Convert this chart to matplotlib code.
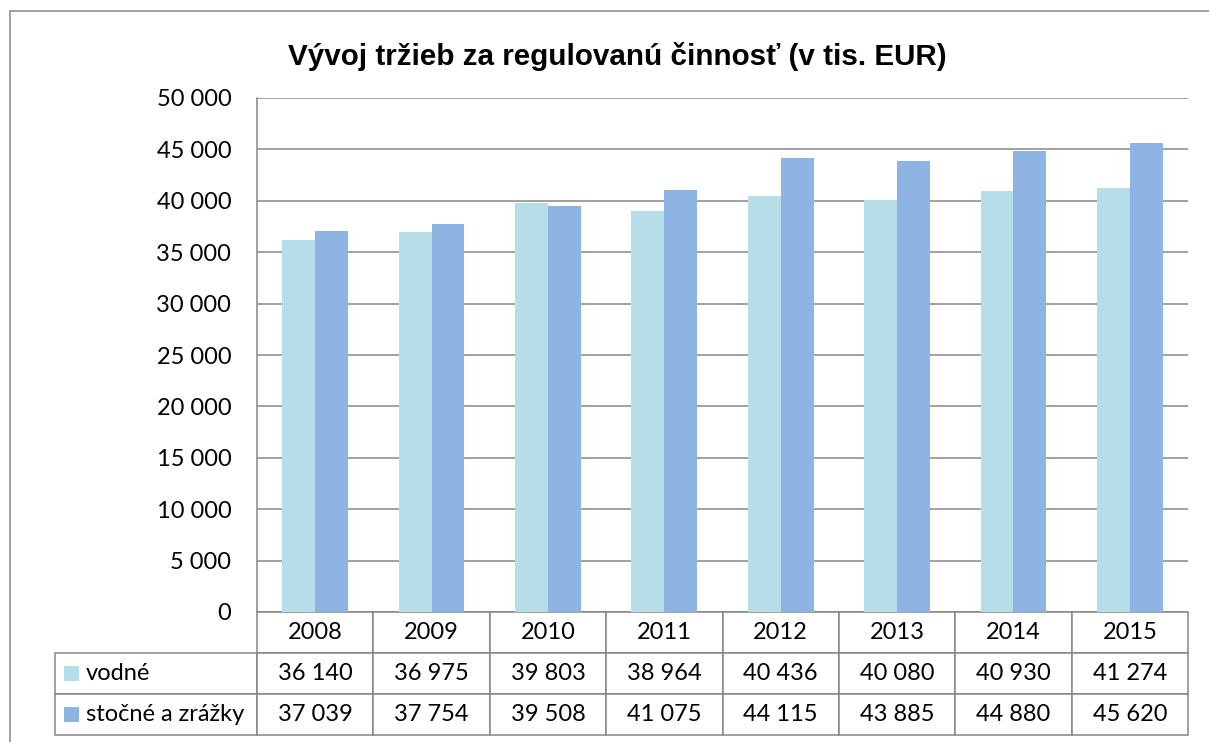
import numpy as np
import matplotlib
matplotlib.use("Agg")
import matplotlib.pyplot as plt
from matplotlib.table import Table
from matplotlib.patches import Rectangle

plt.rcParams['font.family'] = ['Lato', 'DejaVu Sans']

years = ['2008', '2009', '2010', '2011', '2012', '2013', '2014', '2015']
vodne = [36140, 36975, 39803, 38964, 40436, 40080, 40930, 41274]
stocne = [37039, 37754, 39508, 41075, 44115, 43885, 44880, 45620]
series_names = ['vodné', 'stočné a zrážky']
colors = ['#B7DEE8', '#8EB4E3']
title = 'Vývoj tržieb za regulovanú činnosť (v tis. EUR)'

W, H = 1209, 742
grey = '#868686'


def fmt(v):
    return '{:,}'.format(v).replace(',', ' ')


fig = plt.figure(figsize=(W / 100, H / 100), dpi=100)

# outer chart frame (only top and left edge visible in the crop)
fig.add_artist(Rectangle((10 / W, -0.1), 1.2, 1 - 11 / H + 0.1, fill=False,
                         edgecolor=grey, lw=1.1, transform=fig.transFigure))

ax = fig.add_axes([257 / W, 1 - 612 / H, 931 / W, 514 / H])

x = np.arange(len(years)) + 0.5
bw = 0.283
ax.bar(x - bw / 2, vodne, bw, color=colors[0], zorder=3)
ax.bar(x + bw / 2, stocne, bw, color=colors[1], zorder=3)

ax.set_xlim(0, len(years))
ax.set_ylim(0, 50000)
yt = np.arange(0, 50001, 5000)
ax.set_yticks(yt)
ax.set_yticklabels([fmt(v) for v in yt])
ax.set_xticks([])
ax.tick_params(axis='y', length=0, pad=18.5, labelsize=17)
ax.yaxis.grid(True, color=grey, lw=1.1, zorder=0)
for s in ['top', 'right', 'bottom']:
    ax.spines[s].set_visible(False)
ax.spines['left'].set_color(grey)
ax.spines['left'].set_linewidth(1.1)

fig.text(617 / W, 1 - 65 / H, title, ha='center', va='baseline',
         fontsize=21.3, fontweight='bold', family='Liberation Sans')

# data table under the bars
col_w = 1.0 / len(years)
row_h = 41 / 514
lab_w = 202 / 931
tbl = Table(ax, bbox=[0, -3 * row_h, 1, 3 * row_h])
for j, yr in enumerate(years):
    tbl.add_cell(0, j, col_w, row_h, text=yr, loc='center')
for i, vals in enumerate([vodne, stocne]):
    c = tbl.add_cell(i + 1, -1, lab_w, row_h, text=series_names[i], loc='left')
    c.PAD = 31 / 202
    for j, v in enumerate(vals):
        tbl.add_cell(i + 1, j, col_w, row_h, text=fmt(v), loc='center')
tbl.auto_set_font_size(False)
tbl.set_fontsize(17)
for cell in tbl.get_celld().values():
    cell.set_edgecolor(grey)
    cell.set_linewidth(1.1)
ax.add_table(tbl)

# legend keys in the row label cells
for i, col in enumerate(colors):
    top = 666 + 41 * i
    fig.add_artist(Rectangle((64 / W, 1 - (top + 15) / H), 15 / W, 15 / H,
                             facecolor=col, edgecolor='none',
                             transform=fig.transFigure))

fig.savefig('out.png', dpi=100)
